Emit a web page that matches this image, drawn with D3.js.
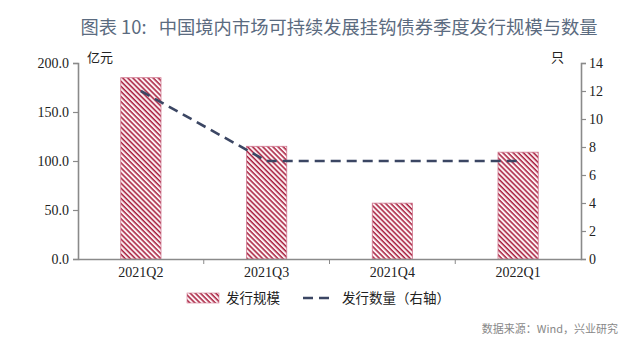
<!DOCTYPE html>
<html><head><meta charset="utf-8">
<script src="https://cdn.jsdelivr.net/npm/d3@7"></script>
<style>body{margin:0;background:#fff;} svg{display:block;}</style>
</head><body>
<svg id="c" width="640" height="346"></svg>
<script>
const categories = ["2021Q2", "2021Q3", "2021Q4", "2022Q1"];
const issueAmount = [185, 115, 57, 109];   // 亿元
const issueCount = [12, 7, 7, 7];          // 只 (右轴)
const leftTicks = [0, 50, 100, 150, 200];
const rightTicks = [0, 2, 4, 6, 8, 10, 12, 14];
const title = "图表 10:   中国境内市场可持续发展挂钩债券季度发行规模与数量";
const source = "数据来源：Wind，兴业研究";

const svg = d3.select("#c");
const m = {l: 78, r: 581, t: 63, b: 259};
const serif = "'Liberation Serif','Times New Roman',serif";
const cjk = "'Noto Sans CJK SC','Noto Sans',sans-serif";
const axisColor = "#8a8a8a";
const barColor = "#a8203f";
const lineColor = "#3b4663";

const defs = svg.append("defs");
const pat = defs.append("pattern").attr("id","hatch").attr("patternUnits","userSpaceOnUse")
  .attr("width",3.6).attr("height",3.6).attr("patternTransform","rotate(45)");
pat.append("rect").attr("width",3.6).attr("height",3.6).attr("fill","#fcf0f3");
pat.append("rect").attr("width",3.6).attr("height",1.5).attr("fill",barColor);

svg.append("text").attr("x",339).attr("y",34).attr("text-anchor","middle")
  .style("white-space","pre")
  .attr("font-family",cjk).attr("font-size",18.3).attr("font-weight",400).attr("fill","#5b6b80").text(title);

const x = d3.scaleBand().domain(categories).range([m.l, m.r]).paddingInner(0.68).paddingOuter(0.34);
const xb = d3.scaleBand().domain(categories).range([m.l, m.r]);
const yL = d3.scaleLinear().domain([0,200]).range([m.b, m.t]);
const yR = d3.scaleLinear().domain([0,14]).range([m.b, m.t]);

// bars
svg.append("g").selectAll("rect").data(categories).join("rect")
  .attr("x", d => x(d)).attr("width", x.bandwidth())
  .attr("y", (d,i) => yL(issueAmount[i])).attr("height", (d,i) => m.b - yL(issueAmount[i]))
  .attr("fill","url(#hatch)").attr("stroke","#d07890").attr("stroke-width",0.8);

// left axis
const gL = svg.append("g").attr("transform",`translate(${m.l},0)`)
  .call(d3.axisLeft(yL).tickValues(leftTicks).tickFormat(d3.format(".1f")).tickSizeOuter(0).tickSize(5).tickPadding(4));
// right axis
const gR = svg.append("g").attr("transform",`translate(${m.r},0)`)
  .call(d3.axisRight(yR).tickValues(rightTicks).tickFormat(d3.format("d")).tickSizeOuter(0).tickSize(5).tickPadding(3));
// x axis
const gX = svg.append("g").attr("transform",`translate(0,${m.b})`)
  .call(d3.axisBottom(xb).tickSize(0).tickPadding(8));
gX.append("g").selectAll("line").data(categories.slice(1)).join("line")
  .attr("x1", d => xb(d)).attr("x2", d => xb(d)).attr("y1",0).attr("y2",5).attr("stroke",axisColor);

[gL,gR,gX].forEach(g => {
  g.selectAll("path.domain").attr("stroke",axisColor).attr("stroke-width",1.6);
  g.selectAll(".tick line").attr("stroke",axisColor).attr("stroke-width",1.2);
  g.selectAll("text").attr("font-family",serif).attr("font-size",14).attr("fill","#222");
});

// line
const line = d3.line().x((d,i) => xb(categories[i]) + xb.bandwidth()/2).y(d => yR(d));
svg.append("path").datum(issueCount).attr("d", line).attr("fill","none")
  .attr("stroke",lineColor).attr("stroke-width",2.6).attr("stroke-dasharray","10,6");

// unit labels
svg.append("text").attr("x",87).attr("y",62).attr("font-family",cjk).attr("font-size",13).attr("fill","#222").text("亿元");
svg.append("text").attr("x",551).attr("y",62).attr("font-family",cjk).attr("font-size",13).attr("fill","#222").text("只");

// legend
const ly = 298;
svg.append("rect").attr("x",187).attr("y",ly-5).attr("width",32).attr("height",10)
  .attr("fill","url(#hatch)").attr("stroke","#d07890").attr("stroke-width",0.6);
svg.append("text").attr("x",226).attr("y",ly+5).attr("font-family",cjk).attr("font-size",13.5).attr("fill","#222").text("发行规模");
svg.append("line").attr("x1",303).attr("x2",331).attr("y1",ly).attr("y2",ly)
  .attr("stroke",lineColor).attr("stroke-width",2.6).attr("stroke-dasharray","10,6");
svg.append("text").attr("x",342).attr("y",ly+5).attr("font-family",cjk).attr("font-size",13.5).attr("fill","#222").text("发行数量（右轴）");

svg.append("text").attr("x",618).attr("y",333).attr("text-anchor","end")
  .attr("font-family",cjk).attr("font-size",11).attr("fill","#888").text(source);
</script>
</body></html>
